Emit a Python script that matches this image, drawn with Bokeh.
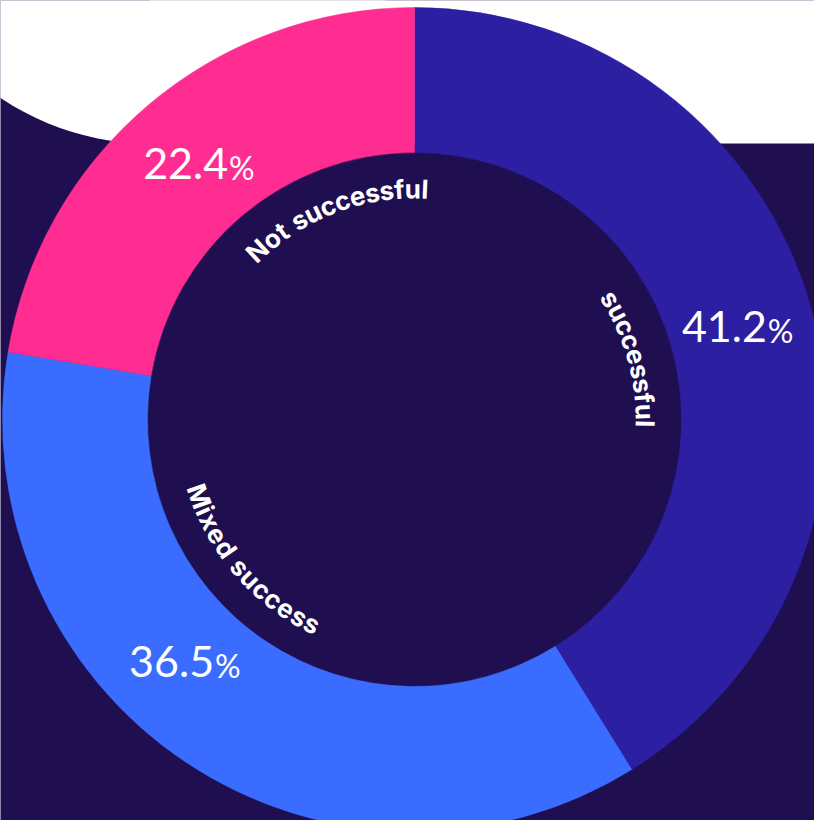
import math
from bokeh.plotting import figure
from bokeh.models import Range1d, ColumnDataSource
from bokeh.embed import file_html
from bokeh.resources import INLINE
from bokeh.core.properties import value

# ---------------- data ----------------
categories = ["Successful", "Mixed success", "Not successful"]
ring_labels = ["successful", "Mixed success", "Not successful"]
shares = [41.2, 36.5, 22.4]
pct_text = ["41.2", "36.5", "22.4"]

# ---------------- style ----------------
colors = ["#2c1fa1", "#3a6dff", "#ff2d92"]
BG = "#1f0f50"
PAGE_W, PAGE_H = 830, 836
FIG_W, FIG_H = 814, 820
CX, CY = 422, 427          # page pixel centre of the donut
R_OUT, R_IN = 412, 267
PCT_R = 335
PCT_NUDGE = [0.0, 9.7, 0.0]        # degrees, label position tweaks
RING_NUDGE = [0.2, 15.3, 19.3]     # degrees, curved label position tweaks
RING_FS = 26
RING_TRACK = 0.6
R_PATH = 229
R_BASE_TOP = 221
R_BASE_BOTTOM = 238
NUM_FS = 43
PCT_FS = 32
BASE_FIX = 0.37            # renderer places "alphabetic" text this many em lower

FONT_RING = "Inter"
FONT_NUM = "Lato"

CHAR_W = {'N': .76, 'o': .60, 't': .38, ' ': .26, 's': .54, 'u': .61, 'c': .57,
          'e': .59, 'f': .38, 'l': .27, 'M': .90, 'i': .27, 'x': .57, 'd': .62}
DIGIT_W = {'.': .26}


def X(px):
    return px


def Y(py):
    return PAGE_H - py


p = figure(width=FIG_W, height=FIG_H, output_backend="svg", toolbar_location=None,
           x_range=Range1d(8, 8 + FIG_W), y_range=Range1d(PAGE_H - 8 - FIG_H, PAGE_H - 8),
           min_border=0)
p.axis.visible = False
p.grid.visible = False
p.outline_line_color = None
p.background_fill_color = BG
p.border_fill_color = BG

# white top area (behind donut)
p.quad(left=[157], right=[PAGE_W + 10], bottom=[Y(151)], top=[PAGE_H + 10],
       fill_color="white", line_color=None)
p.circle(x=[157], y=[Y(-115)], radius=266, fill_color="white", line_color=None)

# ---------------- wedges ----------------
total = sum(shares)
starts, ends, mids = [], [], []
acc = 0.0
for s in shares:
    a0 = acc / total * 360.0
    acc += s
    a1 = acc / total * 360.0
    starts.append(a0)
    ends.append(a1)
    mids.append((a0 + a1) / 2)

src = ColumnDataSource(dict(
    x=[CX] * len(shares), y=[Y(CY)] * len(shares),
    start=[math.radians(90 - e) for e in ends],
    end=[math.radians(90 - s) for s in starts],
    color=colors, cat=categories))
p.annular_wedge(x="x", y="y", inner_radius=R_IN, outer_radius=R_OUT,
                start_angle="start", end_angle="end", direction="anticlock",
                fill_color="color", line_color="color", line_width=0.5, source=src)

# ---------------- percentage labels ----------------
for i, t in enumerate(pct_text):
    th = math.radians(mids[i] + PCT_NUDGE[i])
    px = CX + PCT_R * math.sin(th)
    py = CY - PCT_R * math.cos(th)
    w_num = sum(DIGIT_W.get(ch, .58) for ch in t) * NUM_FS
    w_pct = 0.80 * PCT_FS
    split = px + (w_num - w_pct) / 2
    base = py + 15
    p.text(x=[split], y=[Y(base - BASE_FIX * NUM_FS)], text=[t], text_align="right",
           text_baseline="alphabetic", text_font=value(FONT_NUM),
           text_font_size=f"{NUM_FS}px", text_color="white")
    p.text(x=[split + 1], y=[Y(base - BASE_FIX * PCT_FS)], text=["%"], text_align="left",
           text_baseline="alphabetic", text_font=value(FONT_NUM),
           text_font_size=f"{PCT_FS}px", text_color="white")

# ---------------- curved ring labels ----------------
for i, lab in enumerate(ring_labels):
    thc = mids[i] + RING_NUDGE[i]
    thc_n = thc % 360
    flip = 90 < thc_n < 270
    ws = [CHAR_W.get(ch, .55) * RING_FS for ch in lab]
    total_len = sum(ws) + RING_TRACK * (len(lab) - 1)
    span = total_len / R_PATH
    thc_r = math.radians(thc)
    xs, ys, angs, chars = [], [], [], []
    cum = 0.0
    for ch, w in zip(lab, ws):
        off = (cum + w / 2) / R_PATH
        if not flip:
            th = thc_r - span / 2 + off
            r = R_BASE_TOP + BASE_FIX * RING_FS
            ang = -th
        else:
            th = thc_r + span / 2 - off
            r = R_BASE_BOTTOM - BASE_FIX * RING_FS
            ang = math.pi - th
        cum += w + RING_TRACK
        if ch == " ":
            continue
        xs.append(X(CX + r * math.sin(th)))
        ys.append(Y(CY - r * math.cos(th)))
        angs.append(ang)
        chars.append(ch)
    p.text(x=xs, y=ys, text=chars, angle=angs, text_align="center",
           text_baseline="alphabetic", text_font=value(FONT_RING),
           text_font_style="bold", text_font_size=f"{RING_FS}px",
           text_color="white")

open("out.html", "w").write(file_html(p, INLINE))
